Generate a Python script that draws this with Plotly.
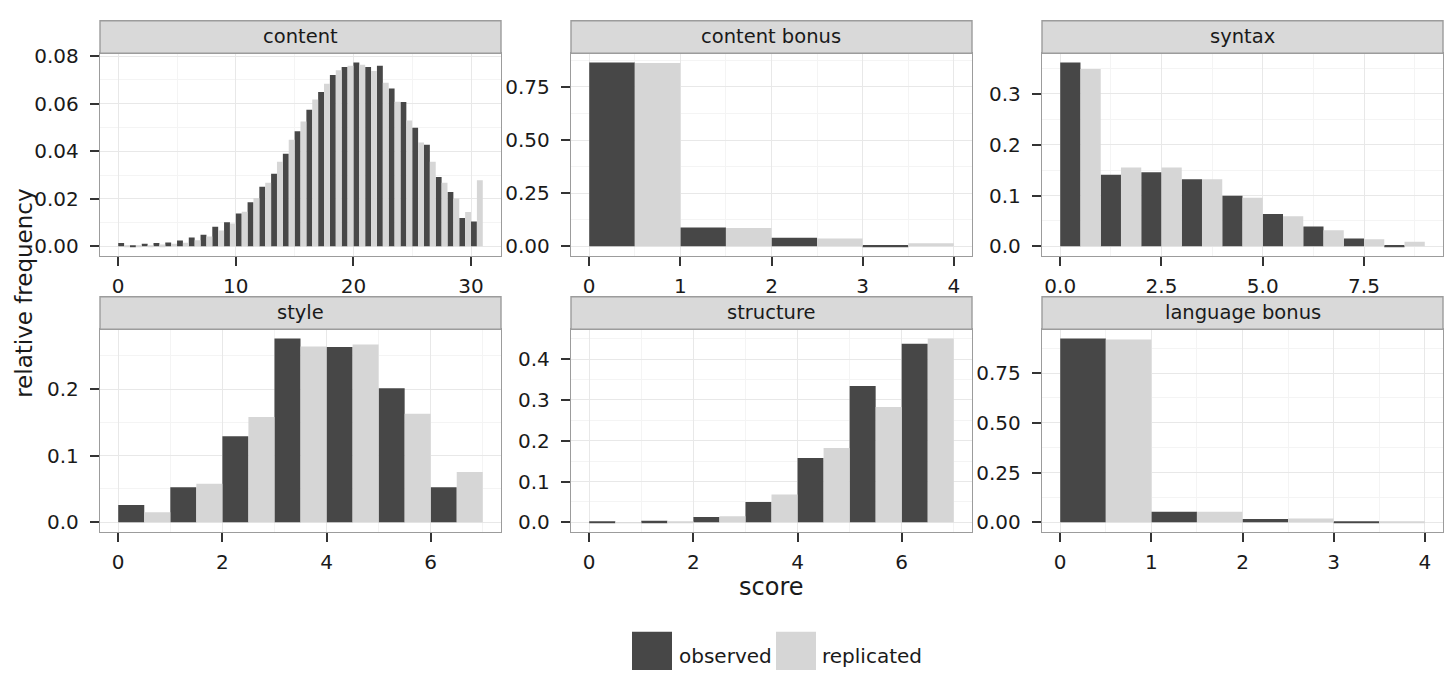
import plotly.graph_objects as go

# ---------------- data ----------------
panel_names = ["content", "content bonus", "syntax", "style", "structure", "language bonus"]

content_observed = [0.0014, 0.0005, 0.0011, 0.0014, 0.0016, 0.0025, 0.0037, 0.0049, 0.0082, 0.0101,
                    0.0138, 0.0185, 0.0251, 0.0305, 0.0390, 0.0484, 0.0575, 0.0649, 0.0721, 0.0755,
                    0.0774, 0.0755, 0.0760, 0.0664, 0.0607, 0.0499, 0.0427, 0.0292, 0.0229, 0.0119, 0.0105]
content_replicated = [0.0004, 0.0004, 0.0005, 0.0008, 0.0011, 0.0015, 0.0026, 0.0041, 0.0067, 0.0096,
                      0.0145, 0.0203, 0.0268, 0.0356, 0.0448, 0.0525, 0.0618, 0.0684, 0.0741, 0.0760,
                      0.0764, 0.0738, 0.0688, 0.0608, 0.0530, 0.0437, 0.0356, 0.0268, 0.0201, 0.0144, 0.0278]

content_bonus_observed = [0.865, 0.089, 0.040, 0.006]
content_bonus_replicated = [0.862, 0.086, 0.037, 0.015]

syntax_observed = [0.362, 0.141, 0.146, 0.132, 0.0995, 0.0636, 0.039, 0.0154, 0.0026]
syntax_replicated = [0.349, 0.155, 0.155, 0.132, 0.0957, 0.059, 0.0315, 0.014, 0.009]

style_observed = [0.026, 0.0525, 0.129, 0.276, 0.263, 0.201, 0.0525]
style_replicated = [0.015, 0.058, 0.158, 0.264, 0.267, 0.163, 0.0755]

structure_observed = [0.0016, 0.004, 0.0128, 0.050, 0.158, 0.334, 0.438]
structure_replicated = [0.0003, 0.0005, 0.015, 0.068, 0.182, 0.283, 0.451]

language_bonus_observed = [0.924, 0.0525, 0.0164, 0.003]
language_bonus_replicated = [0.918, 0.0525, 0.0197, 0.005]

content_yticks = [0.0, 0.02, 0.04, 0.06, 0.08]
content_xticks = [0, 10, 20, 30]
bonus_yticks = [0.0, 0.25, 0.50, 0.75]
bonus_xticks = [0, 1, 2, 3, 4]
syntax_yticks = [0.0, 0.1, 0.2, 0.3]
syntax_xticks = [0.0, 2.5, 5.0, 7.5]
style_yticks = [0.0, 0.1, 0.2]
style_xticks = [0, 2, 4, 6]
structure_yticks = [0.0, 0.1, 0.2, 0.3, 0.4]
structure_xticks = [0, 2, 4, 6]

series_names = ["observed", "replicated"]
x_title = "score"
y_title = "relative frequency"

# ---------------- styling ----------------
W, H = 1448, 673
DARK = "#474747"
LIGHT = "#D6D6D6"
FONT = "DejaVu Sans"
BORDER = "#9C9C9C"
GRID = "#E8E8E8"
MINOR = "#F4F4F4"
TICKSIZE = 20

panels = [
    (panel_names[0], content_observed, content_replicated, content_yticks, ".2f", content_xticks, "d"),
    (panel_names[1], content_bonus_observed, content_bonus_replicated, bonus_yticks, ".2f", bonus_xticks, "d"),
    (panel_names[2], syntax_observed, syntax_replicated, syntax_yticks, ".1f", syntax_xticks, ".1f"),
    (panel_names[3], style_observed, style_replicated, style_yticks, ".1f", style_xticks, "d"),
    (panel_names[4], structure_observed, structure_replicated, structure_yticks, ".1f", structure_xticks, "d"),
    (panel_names[5], language_bonus_observed, language_bonus_replicated, bonus_yticks, ".2f", bonus_xticks, "d"),
]

cols_px = [(100, 501), (571, 972), (1042, 1443)]
rows_px = [(45, 251), (326, 532)]
strips_px = [(12, 45), (293, 326)]


def fx(px):
    return px / W


def fy(py):
    return 1 - py / H


fig = go.Figure()
layout = dict(
    width=W, height=H,
    margin=dict(l=0, r=0, t=0, b=0, pad=0),
    paper_bgcolor="white", plot_bgcolor="white",
    barmode="overlay", showlegend=False,
    font=dict(family=FONT, size=TICKSIZE, color="#1a1a1a"),
)
shapes = []
annotations = []

for i, (name, obs, rep, ytv, yfmt, xtv, xfmt) in enumerate(panels):
    r, c = divmod(i, 3)
    suffix = "" if i == 0 else str(i + 1)
    n = len(obs)
    scores = list(range(n))
    fig.add_trace(go.Bar(x=scores, y=obs, width=0.5, offset=0, marker=dict(color=DARK, line=dict(width=0)),
                         name=series_names[0], xaxis="x" + suffix, yaxis="y" + suffix))
    fig.add_trace(go.Bar(x=scores, y=rep, width=0.5, offset=0.5, marker=dict(color=LIGHT, line=dict(width=0)),
                         name=series_names[1], xaxis="x" + suffix, yaxis="y" + suffix))
    ymax = max(max(obs), max(rep))
    x0, x1 = cols_px[c]
    y0, y1 = rows_px[r]
    xstep = xtv[1] - xtv[0]
    ystep = ytv[1] - ytv[0]
    common = dict(showline=True, mirror=True, linecolor=BORDER, linewidth=1.4,
                  ticks="outside", ticklen=9, tickwidth=2, tickcolor="#333333",
                  showgrid=True, gridcolor=GRID, gridwidth=1.2, zeroline=False,
                  tickfont=dict(family=FONT, size=TICKSIZE, color="#1a1a1a"), fixedrange=True)
    layout["xaxis" + suffix] = dict(
        domain=[fx(x0), fx(x1)], anchor="y" + suffix, range=[-0.05 * n, 1.05 * n],
        tickvals=xtv, tickformat=xfmt, ticklabelstandoff=3,
        minor=dict(dtick=xstep / 2, tick0=xtv[0], showgrid=True, gridcolor=MINOR, gridwidth=1, ticks=""),
        **common)
    layout["yaxis" + suffix] = dict(
        domain=[fy(y1), fy(y0)], anchor="x" + suffix, range=[-0.05 * ymax, 1.05 * ymax],
        tickvals=ytv, tickformat=yfmt, ticklabelstandoff=7,
        minor=dict(dtick=ystep / 2, tick0=ytv[0], showgrid=True, gridcolor=MINOR, gridwidth=1, ticks=""),
        **common)
    s0, s1 = strips_px[r]
    shapes.append(dict(type="rect", xref="paper", yref="paper", x0=fx(x0), x1=fx(x1), y0=fy(s1), y1=fy(s0),
                       fillcolor="#D9D9D9", line=dict(color=BORDER, width=1.4), layer="above"))
    annotations.append(dict(text=name, xref="paper", yref="paper", x=fx((x0 + x1) / 2), y=fy((s0 + s1) / 2),
                            showarrow=False, xanchor="center", yanchor="middle",
                            font=dict(family=FONT, size=19.5, color="#1a1a1a")))

# axis titles
annotations.append(dict(text=y_title, xref="paper", yref="paper", x=fx(24), y=fy(290), textangle=-90,
                        showarrow=False, xanchor="center", yanchor="middle",
                        font=dict(family=FONT, size=23, color="#1a1a1a")))
annotations.append(dict(text=x_title, xref="paper", yref="paper", x=fx(771), y=fy(589),
                        showarrow=False, xanchor="center", yanchor="middle",
                        font=dict(family=FONT, size=24, color="#1a1a1a")))

# legend (drawn manually for large keys)
legend_items = [(series_names[0], DARK, 632, 677), (series_names[1], LIGHT, 776, 820)]
for label, color, kx, tx in legend_items:
    shapes.append(dict(type="rect", xref="paper", yref="paper", x0=fx(kx), x1=fx(kx + 40),
                       y0=fy(673), y1=fy(634), fillcolor=color, line=dict(width=0)))
    annotations.append(dict(text=label, xref="paper", yref="paper", x=fx(tx), y=fy(659),
                            showarrow=False, xanchor="left", yanchor="middle",
                            font=dict(family=FONT, size=20, color="#1a1a1a")))

layout["shapes"] = shapes
layout["annotations"] = annotations
fig.update_layout(**layout)
fig.write_html("out.html", config={"displayModeBar": False},
               post_script="document.body.style.margin='0';document.body.style.padding='0';"
                           "document.body.style.overflow='hidden';")
